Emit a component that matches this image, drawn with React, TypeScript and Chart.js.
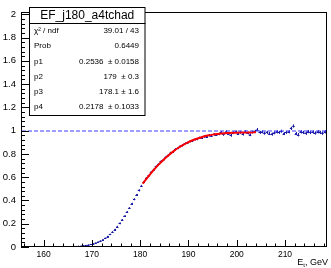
import React, { useEffect, useRef } from "react";
import { Chart, registerables } from "chart.js";

Chart.register(...registerables);

// ---- data ----
const BIN_START = 165.25;
const BIN_WIDTH = 0.5;
const effValues = [
  0.001, 0.002, 0.003, 0.004, 0.006, 0.008, 0.010, 0.013, 0.017, 0.022,
  0.028, 0.034, 0.042, 0.051, 0.062, 0.075, 0.090, 0.108, 0.128, 0.150,
  0.175, 0.203, 0.233, 0.265, 0.300, 0.335, 0.372, 0.410, 0.448, 0.487,
  0.525, 0.558, 0.592, 0.615, 0.645, 0.664, 0.692, 0.710, 0.736, 0.750,
  0.774, 0.788, 0.809, 0.820, 0.840, 0.850, 0.867, 0.873, 0.890, 0.895,
  0.909, 0.912, 0.925, 0.927, 0.939, 0.940, 0.950, 0.949, 0.960, 0.958,
  0.968, 0.965, 0.972, 0.985, 0.968, 0.990, 0.975, 0.960, 0.982, 0.990,
  0.975, 0.985, 0.970, 0.992, 0.980, 0.965, 0.988, 0.995, 1.010, 0.985,
  0.990, 0.978, 0.985, 0.975, 0.970, 0.982, 0.990, 0.985, 0.995, 0.975,
  0.985, 0.990, 1.020, 1.040, 0.975, 0.965, 0.990, 0.985, 0.978, 0.992,
  0.985, 0.988, 0.980, 0.990, 0.985, 0.978, 0.990, 0.985,
];
const effErrors = [
  0.001, 0.001, 0.001, 0.001, 0.001, 0.002, 0.002, 0.002, 0.002, 0.003,
  0.003, 0.003, 0.004, 0.004, 0.004, 0.005, 0.005, 0.005, 0.006, 0.006,
  0.006, 0.007, 0.007, 0.007, 0.008, 0.008, 0.008, 0.008, 0.008, 0.009,
  0.009, 0.009, 0.009, 0.009, 0.009, 0.009, 0.009, 0.009, 0.009, 0.009,
  0.009, 0.009, 0.009, 0.009, 0.009, 0.010, 0.010, 0.010, 0.010, 0.010,
  0.010, 0.010, 0.010, 0.010, 0.010, 0.010, 0.011, 0.011, 0.011, 0.011,
  0.011, 0.011, 0.011, 0.012, 0.012, 0.012, 0.012, 0.012, 0.012, 0.012,
  0.012, 0.012, 0.012, 0.012, 0.012, 0.012, 0.012, 0.012, 0.013, 0.013,
  0.013, 0.013, 0.013, 0.013, 0.013, 0.013, 0.013, 0.013, 0.013, 0.013,
  0.013, 0.013, 0.014, 0.014, 0.014, 0.014, 0.014, 0.014, 0.014, 0.014,
  0.014, 0.014, 0.014, 0.014, 0.014, 0.014, 0.014, 0.014,
];
const fitX = [180.5, 181, 182, 183, 184, 185, 186, 187, 188, 189, 190, 191, 192, 193, 194, 195, 196, 197, 198, 199, 200, 201, 202, 203, 204];
const fitY = [0.545, 0.57, 0.623, 0.672, 0.716, 0.757, 0.793, 0.826, 0.855, 0.88, 0.902, 0.92, 0.935, 0.948, 0.958, 0.966, 0.972, 0.976, 0.979, 0.981, 0.983, 0.984, 0.985, 0.985, 0.986];
const statsLabels = ["χ² / ndf", "Prob", "p1", "p2", "p3", "p4"];
const statsValues = ["39.01 / 43", "0.6449", "0.2536  ± 0.0158", "179  ± 0.3", "178.1 ± 1.6", "0.2178  ± 0.1033"];
const histTitle = "EF_j180_a4tchad";
const X_MIN = 155.3;
const X_MAX = 218.7;
const Y_MIN = 0;
const Y_MAX = 2.02;

const FONT = "'Liberation Sans', Arial, Helvetica, sans-serif";
const BLUE = "#1a1aa6";

const overlay = {
  id: "rootStyle",
  beforeDatasetsDraw(chart: any) {
    const { ctx, scales } = chart;
    const xs = scales.x, ys = scales.y;
    const ca = chart.chartArea;
    ctx.save();
    ctx.beginPath();
    ctx.rect(ca.left, ca.top, ca.right - ca.left, ca.bottom - ca.top);
    ctx.clip();
    // error bars
    ctx.strokeStyle = BLUE;
    ctx.lineWidth = 1;
    effValues.forEach((v, i) => {
      const xc = BIN_START + i * BIN_WIDTH;
      const px0 = xs.getPixelForValue(xc - BIN_WIDTH / 2);
      const px1 = xs.getPixelForValue(xc + BIN_WIDTH / 2);
      const pxc = Math.round(xs.getPixelForValue(xc)) + 0.5;
      const py = Math.round(ys.getPixelForValue(v)) + 0.5;
      const pyl = ys.getPixelForValue(v - effErrors[i]);
      const pyh = ys.getPixelForValue(v + effErrors[i]);
      ctx.beginPath();
      ctx.moveTo(px0, py);
      ctx.lineTo(px1, py);
      ctx.moveTo(pxc, pyl);
      ctx.lineTo(pxc, pyh);
      ctx.stroke();
    });
    ctx.restore();
  },
  afterDraw(chart: any) {
    const { ctx, scales } = chart;
    const xs = scales.x, ys = scales.y;
    const ca = chart.chartArea;
    ctx.save();
    // dashed line at 1
    ctx.strokeStyle = "rgb(60, 60, 255)";
    ctx.lineWidth = 1.2;
    ctx.setLineDash([4, 2]);
    const y1 = Math.round(ys.getPixelForValue(1));
    ctx.beginPath();
    ctx.moveTo(ca.left + 1, y1);
    ctx.lineTo(ca.right - 1, y1);
    ctx.stroke();
    ctx.setLineDash([]);

    ctx.strokeStyle = "#000";
    ctx.lineWidth = 1;
    // frame
    ctx.strokeRect(ca.left + 0.5, ca.top + 0.5, ca.right - ca.left - 1, ca.bottom - ca.top - 1);
    // y ticks
    ctx.beginPath();
    for (let i = 0; i <= 50; i++) {
      const v = i * 0.04;
      const p = Math.round(ys.getPixelForValue(v)) + 0.5;
      const len = i % 5 === 0 ? 8 : 4;
      ctx.moveTo(ca.left, p);
      ctx.lineTo(ca.left + len, p);
    }
    // x ticks
    for (let t = 156; t <= 218; t += 2) {
      const p = Math.round(xs.getPixelForValue(t)) + 0.5;
      const len = t % 10 === 0 ? 7 : 3.5;
      ctx.moveTo(p, ca.bottom);
      ctx.lineTo(p, ca.bottom - len);
    }
    ctx.stroke();

    // x title
    ctx.fillStyle = "#000";
    ctx.textBaseline = "middle";
    ctx.textAlign = "left";
    ctx.font = `9px ${FONT}`;
    const tail = ", GeV";
    const tailW = ctx.measureText(tail).width;
    const right = 328;
    ctx.fillText(tail, right - tailW, 263);
    ctx.font = `6px ${FONT}`;
    const subW = ctx.measureText("t").width;
    ctx.fillText("t", right - tailW - subW, 265);
    ctx.font = `9px ${FONT}`;
    const eW = ctx.measureText("E").width;
    ctx.fillText("E", right - tailW - subW - eW, 263);

    // stats box
    const bx = 29.5, bw = 115.5;
    ctx.fillStyle = "#fff";
    ctx.fillRect(bx, 7.5, bw, 108);
    ctx.strokeStyle = "#000";
    ctx.strokeRect(bx, 7.5, bw, 16);
    ctx.strokeRect(bx, 23.5, bw, 92);
    ctx.fillStyle = "#000";
    ctx.font = `12px ${FONT}`;
    ctx.textAlign = "center";
    ctx.fillText(histTitle, bx + bw / 2, 16);
    ctx.font = `8px ${FONT}`;
    statsLabels.forEach((lab, i) => {
      const yy = 31 + i * 15.2;
      ctx.textAlign = "left";
      ctx.fillText(lab, 34, yy);
      ctx.textAlign = "right";
      ctx.fillText(statsValues[i], 139, yy);
    });
    ctx.restore();
  },
};

export default function App() {
  const ref = useRef<HTMLCanvasElement>(null);
  useEffect(() => {
    document.body.style.margin = "0";
    const points = effValues.map((v, i) => ({ x: BIN_START + i * BIN_WIDTH, y: v }));
    const fit = fitX.map((x, i) => ({ x, y: fitY[i] }));
    const chart = new Chart(ref.current as HTMLCanvasElement, {
      type: "scatter",
      data: {
        datasets: [
          {
            label: "fit",
            data: fit,
            showLine: true,
            borderColor: "#ff0000",
            borderWidth: 2,
            pointRadius: 0,
            tension: 0.4,
            order: 0,
          },
          {
            label: "eff",
            data: points,
            pointRadius: 0.8,
            pointBackgroundColor: BLUE,
            pointBorderWidth: 0,
            showLine: false,
            order: 1,
          },
        ],
      },
      options: {
        responsive: false,
        animation: false,
        devicePixelRatio: 1,
        layout: { padding: { top: 12, right: 1, left: 0, bottom: 0 } },
        plugins: { legend: { display: false }, tooltip: { enabled: false }, title: { display: false } },
        scales: {
          x: {
            type: "linear",
            min: X_MIN,
            max: X_MAX,
            grid: { display: false, drawTicks: false },
            border: { display: false },
            afterFit: (s: any) => { s.height = 21; },
            ticks: {
              stepSize: 10,
              includeBounds: false,
              autoSkip: false,
              maxRotation: 0,
              padding: 3,
              color: "#000",
              font: { family: FONT, size: 8.5 },
              callback: (v: any) => String(Math.round(Number(v))),
            },
          },
          y: {
            type: "linear",
            min: Y_MIN,
            max: Y_MAX,
            grid: { display: false, drawTicks: false },
            border: { display: false },
            afterFit: (s: any) => { s.width = 21; },
            ticks: {
              stepSize: 0.2,
              includeBounds: false,
              autoSkip: false,
              padding: 5,
              color: "#000",
              font: { family: FONT, size: 9.5 },
              callback: (v: any) => String(Math.round(Number(v) * 10) / 10),
            },
          },
        },
      },
      plugins: [overlay],
    } as any);
    return () => chart.destroy();
  }, []);
  return (
    <div style={{ width: 331, height: 268 }}>
      <canvas ref={ref} width={331} height={268} style={{ display: "block" }} />
    </div>
  );
}
